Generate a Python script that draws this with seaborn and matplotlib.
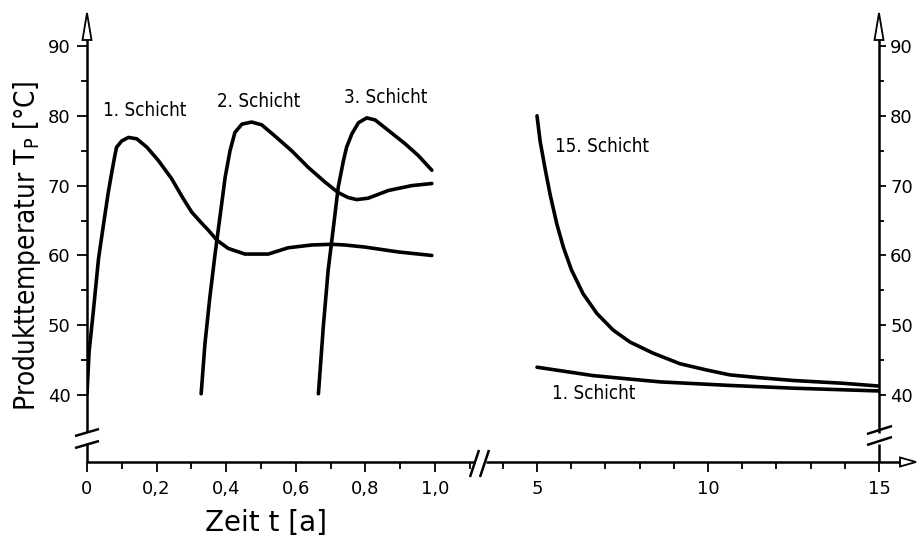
import numpy as np
import pandas as pd
import matplotlib
matplotlib.use("Agg")
import matplotlib.pyplot as plt
from matplotlib.patches import Polygon
from matplotlib.ticker import MultipleLocator, FixedLocator
import seaborn as sns

# ---------------- data ----------------
# left panel: time in years 0..1
t_s1 = [0.0, 0.006, 0.018, 0.033, 0.047, 0.061, 0.073, 0.080, 0.085, 0.100, 0.119, 0.143,
        0.172, 0.205, 0.243, 0.277, 0.301, 0.330, 0.349, 0.373, 0.406, 0.454, 0.521, 0.578,
        0.646, 0.703, 0.741, 0.799, 0.895, 0.991]
T_s1 = [40.2, 46.2, 51.9, 59.5, 64.3, 69.0, 72.4, 74.3, 75.5, 76.4, 76.9, 76.7,
        75.5, 73.6, 71.0, 68.1, 66.2, 64.6, 63.6, 62.2, 61.0, 60.2, 60.2, 61.1,
        61.5, 61.6, 61.5, 61.2, 60.5, 60.0]

t_s2 = [0.328, 0.339, 0.353, 0.368, 0.382, 0.397, 0.411, 0.425, 0.445, 0.473, 0.502, 0.540,
        0.588, 0.636, 0.684, 0.722, 0.750, 0.775, 0.808, 0.866, 0.933, 0.991]
T_s2 = [40.2, 47.4, 54.0, 60.2, 65.5, 71.2, 75.0, 77.6, 78.8, 79.1, 78.7, 77.1,
        75.0, 72.6, 70.5, 69.0, 68.3, 68.0, 68.2, 69.3, 70.0, 70.3]

t_s3 = [0.665, 0.679, 0.693, 0.708, 0.722, 0.737, 0.746, 0.761, 0.780, 0.804, 0.828, 0.866,
        0.914, 0.952, 0.991]
T_s3 = [40.2, 49.8, 57.9, 64.0, 69.8, 73.6, 75.5, 77.4, 79.0, 79.7, 79.4, 77.9,
        76.0, 74.3, 72.2]

# right panel: time in years 5..15
t_s15 = [5.0, 5.09, 5.23, 5.38, 5.58, 5.77, 6.01, 6.35, 6.75, 7.23, 7.72, 8.40, 9.18, 9.96,
         10.64, 11.5, 12.49, 13.95, 15.0]
T_s15 = [80.0, 76.4, 72.6, 68.8, 64.5, 61.2, 57.9, 54.5, 51.7, 49.3, 47.6, 46.0, 44.5, 43.6,
         42.9, 42.5, 42.1, 41.7, 41.3]

t_s1b = [5.0, 6.64, 7.72, 8.60, 10.6, 12.49, 15.0]
T_s1b = [44.0, 42.8, 42.3, 41.9, 41.4, 41.0, 40.6]

left_xticks = [0, 0.2, 0.4, 0.6, 0.8, 1.0]
left_xticklabels = ["0", "0,2", "0,4", "0,6", "0,8", "1,0"]
right_xticks = [5, 10, 15]
right_xticklabels = ["5", "10", "15"]
yticks = [40, 50, 60, 70, 80, 90]

curve_labels_left = [("1. Schicht", 0.167, 80.7), ("2. Schicht", 0.494, 82.1), ("3. Schicht", 0.859, 82.6)]
curve_labels_right = [("15. Schicht", 6.9, 75.6), ("1. Schicht", 6.67, 40.3)]

# ---------------- style ----------------
sns.set_theme(style="white")
plt.rcParams['font.family'] = ['DejaVu Sans']
plt.rcParams['mathtext.default'] = 'regular'

W, H = 918, 537
fig = plt.figure(figsize=(W / 100, H / 100), dpi=100)


def rect(x0, x1, y0, y1):
    return [x0 / W, 1 - y1 / H, (x1 - x0) / W, (y1 - y0) / H]


X0, XB, XR = 87, 480, 879
YT, YB = 13, 462
axL = fig.add_axes(rect(X0, XB, YT, YB))
axR = fig.add_axes(rect(XB, XR, YT, YB))

px_per_unit_left = 348.0
px_per_unit_right = 34.2
ylo = 40 - (YB - 395) / 7.0
yhi = 90 + (46 - YT) / 7.0
axL.set_xlim(0, (XB - X0) / px_per_unit_left)
axR.set_xlim(5 - (537 - XB) / px_per_unit_right, 15)
for ax in (axL, axR):
    ax.set_ylim(ylo, yhi)
    ax.set_facecolor("none")
    for s in ax.spines.values():
        s.set_visible(False)
    ax.grid(False)

lw = 2.6
kw = dict(color="black", linewidth=lw, estimator=None, sort=False, legend=False)
for tt, TT in [(t_s1, T_s1), (t_s2, T_s2), (t_s3, T_s3)]:
    df = pd.DataFrame({"t": tt, "T": TT})
    sns.lineplot(data=df, x="t", y="T", ax=axL, **kw)
for tt, TT in [(t_s15, T_s15), (t_s1b, T_s1b)]:
    df = pd.DataFrame({"t": tt, "T": TT})
    sns.lineplot(data=df, x="t", y="T", ax=axR, **kw)
for ax in (axL, axR):
    for ln in ax.get_lines():
        ln.set_solid_joinstyle("round")
        ln.set_solid_capstyle("round")
    ax.set_xlabel("")
    ax.set_ylabel("")

tick_font = dict(family=['DejaVu Sans'], size=13)

# left axis ticks
axL.xaxis.set_major_locator(FixedLocator(left_xticks))
axL.set_xticklabels(left_xticklabels, fontdict=tick_font)
axL.xaxis.set_minor_locator(MultipleLocator(0.1))
axL.yaxis.set_major_locator(FixedLocator(yticks))
axL.set_yticklabels([str(v) for v in yticks], fontdict=tick_font)
axL.yaxis.set_minor_locator(FixedLocator([45, 55, 65, 75, 85]))
axL.tick_params(axis="x", which="both", bottom=True, top=False, direction="out",
                length=7, width=1.3, color="black", pad=6, labelcolor="black")
axL.tick_params(axis="x", which="minor", length=5)
axL.tick_params(axis="y", which="both", left=True, right=False, direction="out",
                length=7, width=1.3, color="black", pad=5, labelcolor="black")
axL.tick_params(axis="y", which="minor", length=4)

# right axis ticks
axR.xaxis.set_major_locator(FixedLocator(right_xticks))
axR.set_xticklabels(right_xticklabels, fontdict=tick_font)
axR.xaxis.set_minor_locator(MultipleLocator(1))
axR.yaxis.set_major_locator(FixedLocator(yticks))
axR.yaxis.set_minor_locator(FixedLocator([45, 55, 65, 75, 85]))
axR.yaxis.tick_right()
axR.set_yticklabels([str(v) for v in yticks], fontdict=tick_font)
axR.tick_params(axis="x", which="both", bottom=True, top=False, direction="out",
                length=7, width=1.3, color="black", pad=6, labelcolor="black")
axR.tick_params(axis="x", which="minor", length=5)
axR.tick_params(axis="y", which="both", left=False, right=True, direction="out",
                length=5, width=1.3, color="black", pad=3, labelcolor="black")
axR.tick_params(axis="y", which="minor", length=3.5)

# ---------------- axis lines, breaks, arrows (in axes fractions) ----------------
alw = 1.8
wL = XB - X0
wR = XR - XB
hA = YB - YT


def fy(py):
    return (YB - py) / hA


def fxL(px):
    return (px - X0) / wL


def fxR(px):
    return (px - XB) / wR


line_kw = dict(color="black", linewidth=alw, clip_on=False, solid_capstyle="butt")
# left y axis with break
axL.plot([0, 0], [0, fy(443)], transform=axL.transAxes, **line_kw)
axL.plot([0, 0], [fy(432), fy(40)], transform=axL.transAxes, **line_kw)
axL.plot([fxL(75), fxL(99)], [fy(436), fy(429)], transform=axL.transAxes, **line_kw)
axL.plot([fxL(75), fxL(99)], [fy(448), fy(441)], transform=axL.transAxes, **line_kw)
# x axis left part and break
axL.plot([0, fxL(475)], [0, 0], transform=axL.transAxes, **line_kw)
axL.plot([fxL(470), fxL(479)], [fy(477), fy(450)], transform=axL.transAxes, **line_kw)
# right x axis part
axR.plot([fxR(486), 1.0], [0, 0], transform=axR.transAxes, **line_kw)
axR.plot([fxR(480), fxR(489)], [fy(477), fy(450)], transform=axR.transAxes, **line_kw)
axR.plot([1.0, fxR(900)], [0, 0], transform=axR.transAxes, **line_kw)
# right y axis with break
axR.plot([1, 1], [0, fy(444)], transform=axR.transAxes, **line_kw)
axR.plot([1, 1], [fy(433), fy(40)], transform=axR.transAxes, **line_kw)
axR.plot([fxR(867), fxR(892)], [fy(434), fy(426)], transform=axR.transAxes, **line_kw)
axR.plot([fxR(867), fxR(892)], [fy(445), fy(437)], transform=axR.transAxes, **line_kw)

# arrows (open triangles)
arr_kw = dict(closed=True, facecolor="white", edgecolor="black", linewidth=1.3, clip_on=False)
axL.add_patch(Polygon([[fxL(82.5), fy(40)], [fxL(91.5), fy(40)], [fxL(87), fy(13)]],
                      transform=axL.transAxes, **arr_kw))
axR.add_patch(Polygon([[fxR(874.5), fy(40)], [fxR(883.5), fy(40)], [fxR(879), fy(13)]],
                      transform=axR.transAxes, **arr_kw))
axR.add_patch(Polygon([[fxR(900), fy(457.5)], [fxR(900), fy(466.5)], [fxR(916), fy(462)]],
                      transform=axR.transAxes, **arr_kw))

# curve labels
lab_font = dict(family=['DejaVu Sans'], size=13.5, color="black")
for txt, x, y in curve_labels_left:
    axL.text(x, y, txt, ha="center", va="center", fontstretch="condensed", **lab_font)
for txt, x, y in curve_labels_right:
    axR.text(x, y, txt, ha="center", va="center", fontstretch="condensed", **lab_font)

# axis titles
fig.text(27 / W, 1 - 246 / H, r"Produkttemperatur T$_\mathregular{P}$ [°C]", rotation=90,
         ha="center", va="center", fontsize=20, fontstretch="condensed", color="black",
         family=['DejaVu Sans'])
fig.text(266 / W, 1 - 523 / H, "Zeit t [a]", ha="center", va="center",
         fontsize=20, color="black", family=['DejaVu Sans'])

fig.savefig("out.png", dpi=100)
